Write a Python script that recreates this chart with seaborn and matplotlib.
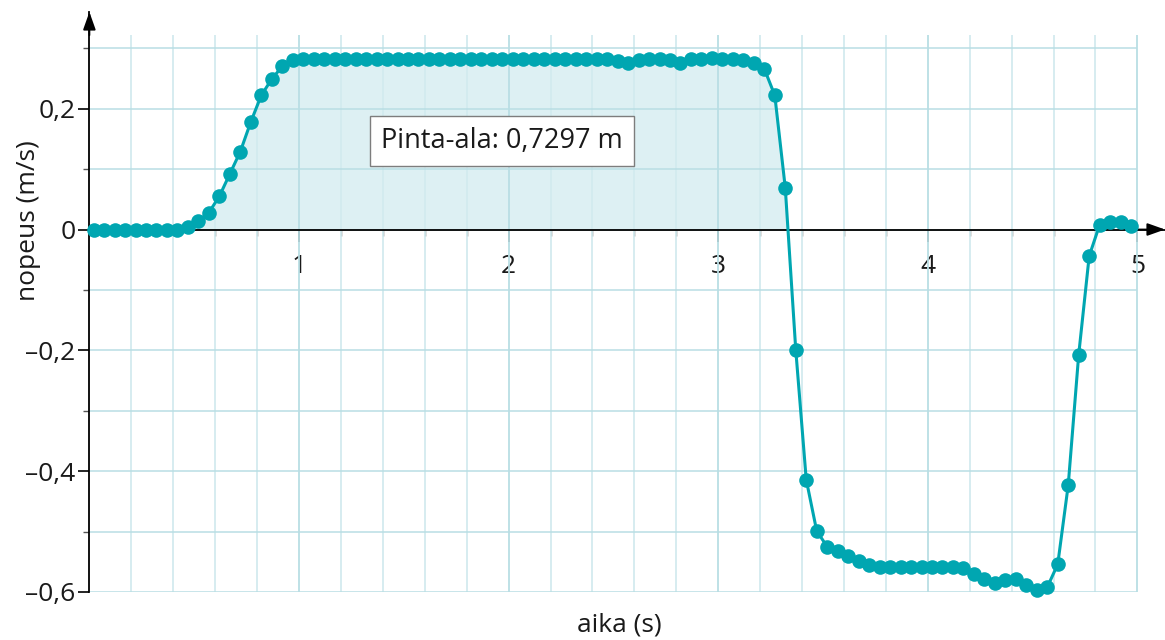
import numpy as np
import pandas as pd
import seaborn as sns
import matplotlib.pyplot as plt
from matplotlib.ticker import FixedLocator, FixedFormatter

# ---------------- data ----------------
time_s = [
    0.02, 0.07, 0.12, 0.17, 0.22, 0.27, 0.32, 0.37, 0.42, 0.47,
    0.52, 0.57, 0.62, 0.67, 0.72, 0.77, 0.82, 0.87, 0.92, 0.97,
    1.02, 1.07, 1.12, 1.17, 1.22, 1.27, 1.32, 1.37, 1.42, 1.47,
    1.52, 1.57, 1.62, 1.67, 1.72, 1.77, 1.82, 1.87, 1.92, 1.97,
    2.02, 2.07, 2.12, 2.17, 2.22, 2.27, 2.32, 2.37, 2.42, 2.47,
    2.52, 2.57, 2.62, 2.67, 2.72, 2.77, 2.82, 2.87, 2.92, 2.97,
    3.02, 3.07, 3.12, 3.17, 3.22, 3.27, 3.32, 3.37, 3.42, 3.47,
    3.52, 3.57, 3.62, 3.67, 3.72, 3.77, 3.82, 3.87, 3.92, 3.97,
    4.02, 4.07, 4.12, 4.17, 4.22, 4.27, 4.32, 4.37, 4.42, 4.47,
    4.52, 4.57, 4.62, 4.67, 4.72, 4.77, 4.82, 4.87, 4.92, 4.97,
]
velocity = [
    0.000, 0.000, 0.000, 0.000, 0.000, 0.000, 0.000, 0.000, 0.000, 0.004,
    0.014, 0.028, 0.055, 0.092, 0.129, 0.178, 0.222, 0.249, 0.270, 0.280,
    0.283, 0.283, 0.283, 0.283, 0.283, 0.283, 0.283, 0.283, 0.283, 0.283,
    0.283, 0.283, 0.283, 0.283, 0.283, 0.283, 0.283, 0.283, 0.283, 0.283,
    0.283, 0.283, 0.283, 0.283, 0.283, 0.283, 0.283, 0.283, 0.283, 0.282,
    0.279, 0.275, 0.281, 0.283, 0.283, 0.281, 0.276, 0.282, 0.283, 0.284,
    0.283, 0.283, 0.280, 0.275, 0.266, 0.222, 0.069, -0.199, -0.414, -0.499,
    -0.525, -0.532, -0.540, -0.549, -0.556, -0.558, -0.559, -0.559, -0.559, -0.559,
    -0.559, -0.559, -0.559, -0.561, -0.571, -0.579, -0.585, -0.580, -0.578, -0.588,
    -0.596, -0.592, -0.554, -0.423, -0.207, -0.044, 0.008, 0.013, 0.012, 0.006,
]

x_major_ticks = [1, 2, 3, 4, 5]
x_major_labels = ["1", "2", "3", "4", "5"]
x_minor_ticks = [0.2, 0.4, 0.6, 0.8, 1.2, 1.4, 1.6, 1.8, 2.2, 2.4, 2.6, 2.8,
                 3.2, 3.4, 3.6, 3.8, 4.2, 4.4, 4.6, 4.8]
y_major_ticks = [-0.6, -0.4, -0.2, 0.0, 0.2]
y_major_labels = ["\u20130,6", "\u20130,4", "\u20130,2", "0", "0,2"]
y_minor_ticks = [-0.5, -0.3, -0.1, 0.1, 0.3]

area_label = "Pinta-ala: 0,7297 m"
x_label = "aika (s)"
y_label = "nopeus (m/s)"

# ---------------- style ----------------
LINE = "#00a6b1"
FILL = "#ddf0f3"
GRID_MINOR = "#d3ebef"
GRID_MAJOR = "#b9dee4"
TEXT = "#1a1a1a"

sns.set_theme(style="white")
plt.rcParams['font.family'] = ['Open Sans', 'DejaVu Sans']

W_PX, H_PX = 1165, 640
fig = plt.figure(figsize=(W_PX / 100, H_PX / 100), dpi=100)
ax = fig.add_axes([89.4 / W_PX, 48 / H_PX, 1075.6 / W_PX, 580 / H_PX])
ax.set_xlim(0, 1075.6 / 209.6)
ax.set_ylim(-0.6, 0.36)
ax.set_facecolor("white")

df = pd.DataFrame({"aika": time_s, "nopeus": velocity})
t = df["aika"].to_numpy()
v = df["nopeus"].to_numpy()

# shaded positive area (first motion phase)
ax.fill_between(t, v, 0, where=(v > 0) & (t < 4), interpolate=True,
                color=FILL, lw=0, zorder=0.5)

# grid (drawn manually so it stops at x=5 / y=0.32 like the reference)
x_grid_top = 0.322
ax.vlines(x_minor_ticks, -0.6, x_grid_top, colors=GRID_MINOR, lw=1.3, zorder=1)
ax.vlines(x_major_ticks, -0.6, x_grid_top, colors=GRID_MAJOR, lw=1.3, zorder=1)
ax.hlines(y_minor_ticks + y_major_ticks, 0, 5, colors=GRID_MAJOR, lw=1.3, zorder=1,
          alpha=0.85)

sns.lineplot(data=df, x="aika", y="nopeus", ax=ax, color=LINE, lw=2.2,
             marker="o", markersize=10.5, markeredgewidth=0, estimator=None,
             zorder=4, clip_on=False)
data_line = ax.get_lines()[-1]
data_line.set_markersize(10.5)
data_line.set_markeredgewidth(0)

# axes lines
for s in ["top", "right"]:
    ax.spines[s].set_visible(False)
ax.spines["bottom"].set_position(("data", 0))
for s in ["left", "bottom"]:
    ax.spines[s].set_color("black")
    ax.spines[s].set_linewidth(1.3)
    ax.spines[s].set_zorder(3)

arrow_kw = dict(arrowstyle="-|>,head_length=0.9,head_width=0.32", color="black",
                lw=1.3, shrinkA=0, shrinkB=0)
ax.annotate("", xy=(1.0, 0), xycoords=("axes fraction", "data"),
            xytext=(0.97, 0), textcoords=("axes fraction", "data"),
            arrowprops=arrow_kw, annotation_clip=False)
ax.annotate("", xy=(0, 1.0), xycoords=("data", "axes fraction"),
            xytext=(0, 0.96), textcoords=("data", "axes fraction"),
            arrowprops=arrow_kw, annotation_clip=False)

# ticks
ax.xaxis.set_major_locator(FixedLocator(x_major_ticks))
ax.xaxis.set_major_formatter(FixedFormatter(x_major_labels))
ax.xaxis.set_minor_locator(FixedLocator(x_minor_ticks))
ax.yaxis.set_major_locator(FixedLocator(y_major_ticks))
ax.yaxis.set_major_formatter(FixedFormatter(y_major_labels))
ax.yaxis.set_minor_locator(FixedLocator(y_minor_ticks))

ax.tick_params(axis="x", which="major", direction="out", length=8.5, width=1.2,
               color="black", pad=9, labelsize=19, labelcolor=TEXT, bottom=True)
ax.tick_params(axis="x", which="minor", direction="out", length=4, width=1.0,
               color="#555555", bottom=True)
ax.tick_params(axis="y", which="major", direction="out", length=8, width=1.2,
               color="black", pad=2, labelsize=19, labelcolor=TEXT, left=True)
ax.tick_params(axis="y", which="minor", direction="out", length=4, width=1.0,
               color="#555555", left=True)

ax.set_xlabel(x_label, fontsize=19, color=TEXT)
ax.xaxis.set_label_coords(0.493, -0.036)
ax.set_ylabel(y_label, fontsize=19, color=TEXT)
ax.yaxis.set_label_coords(-0.045, 0.64)

ax.text(1.968, 0.147, area_label, fontsize=19.5, color=TEXT, ha="center",
        va="center", zorder=6,
        bbox=dict(boxstyle="square,pad=0.4", fc="white", ec="#7d7d7d", lw=1.0))

fig.savefig("out.png", dpi=100)
